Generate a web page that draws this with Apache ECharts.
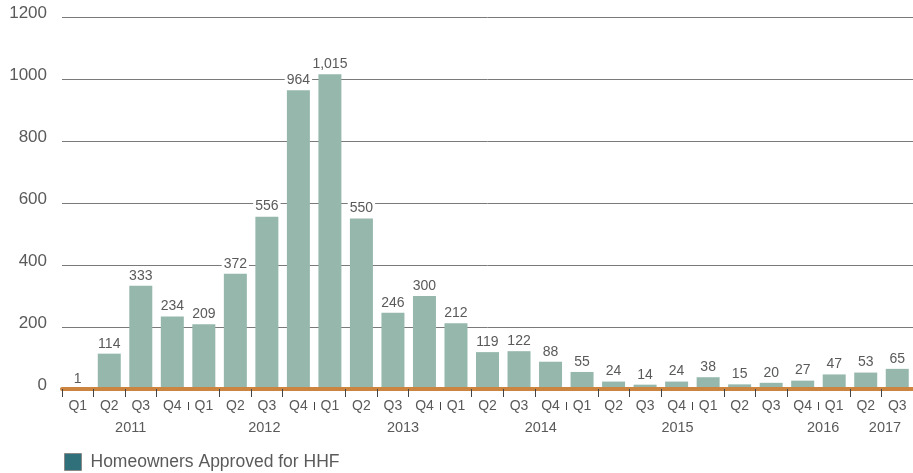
<!DOCTYPE html>
<html>
<head>
<meta charset="utf-8">
<script src="https://cdn.jsdelivr.net/npm/echarts@6/dist/echarts.min.js"></script>
<style>
  html, body { margin: 0; padding: 0; background: #fff; }
  #chart { width: 913px; height: 473px; }
</style>
</head>
<body>
<div id="chart"></div>
<script>
// Quarterly approvals, 2011 Q1 through 2017 Q3
const quarters = [
  'Q1','Q2','Q3','Q4', 'Q1','Q2','Q3','Q4', 'Q1','Q2','Q3','Q4',
  'Q1','Q2','Q3','Q4', 'Q1','Q2','Q3','Q4', 'Q1','Q2','Q3','Q4',
  'Q1','Q2','Q3'
];
const approved = [
  1, 114, 333, 234, 209, 372, 556, 964, 1015, 550, 246, 300,
  212, 119, 122, 88, 55, 24, 14, 24, 38, 15, 20, 27, 47, 53, 65
];
const seriesName = 'Homeowners Approved for HHF';

// Year captions and where they sit along the quarter scale (in quarters from the start)
const years = ['2011', '2012', '2013', '2014', '2015', '2016', '2017'];
const yearLabelAt = [2.18, 6.42, 10.82, 15.19, 19.53, 24.15, 26.11];
// Separators drawn between Q4 and Q1
const yearBreaks = [4, 8, 12, 16, 20, 24];

const yTicks = { min: 0, max: 1200, step: 200 };

const textColor = '#5a5a5a';
const sans = '"Liberation Sans", Arial, sans-serif';

const chart = echarts.init(document.getElementById('chart'), null, { renderer: 'canvas' });

chart.setOption({
  animation: false,
  textStyle: { fontFamily: sans },
  grid: { left: 62, right: -6, top: 17, bottom: 84, containLabel: false },
  legend: {
    left: 59,
    top: 448,
    icon: 'rect',
    itemWidth: 17,
    itemHeight: 17,
    itemGap: 10,
    textStyle: { color: textColor, fontSize: 17.5, fontFamily: sans, padding: [0, 0, 0, 4] },
    data: [{
      name: seriesName,
      itemStyle: { color: '#30707b', borderColor: '#8a8a8a', borderWidth: 1 }
    }]
  },
  xAxis: [
    {
      type: 'category',
      data: quarters,
      boundaryGap: true,
      axisLine: { show: true, lineStyle: { color: '#cc8540', width: 4 } },
      axisTick: {
        show: true,
        length: 8,
        interval: function (index) { return index === 0 || index % 4 !== 0; },
        lineStyle: { color: '#444', width: 1 }
      },
      axisLabel: {
        color: textColor,
        fontSize: 14,
        margin: 10,
        interval: 0,
        fontFamily: sans
      },
      z: 5
    },
    {
      type: 'value',
      min: 0,
      max: quarters.length,
      position: 'bottom',
      offset: 13,
      axisLine: { show: false },
      splitLine: { show: false },
      axisTick: {
        show: true,
        length: 8,
        customValues: yearBreaks,
        lineStyle: { color: '#444', width: 1 }
      },
      axisLabel: { show: false }
    },
    {
      type: 'value',
      min: 0,
      max: quarters.length,
      position: 'bottom',
      offset: 0,
      axisLine: { show: false },
      splitLine: { show: false },
      axisTick: { show: false },
      axisLabel: {
        show: true,
        customValues: yearLabelAt,
        margin: 31,
        color: textColor,
        fontSize: 14.5,
        fontFamily: sans,
        formatter: function (v) {
          const i = yearLabelAt.indexOf(v);
          return i >= 0 ? years[i] : '';
        }
      }
    }
  ],
  yAxis: {
    type: 'value',
    min: yTicks.min,
    max: yTicks.max,
    interval: yTicks.step,
    axisLine: { show: false },
    axisTick: { show: false },
    splitLine: { show: true, lineStyle: { color: '#7a7a7a', width: 1 } },
    axisLabel: {
      margin: 15,
      formatter: function (v) { return '{t|' + String(v) + '}'; },
      rich: {
        t: {
          color: textColor,
          fontSize: 17,
          fontFamily: sans,
          padding: [0, 0, 7, 0]
        }
      }
    }
  },
  series: [{
    name: seriesName,
    type: 'bar',
    xAxisIndex: 0,
    data: approved,
    barWidth: 23,
    itemStyle: { color: '#96b8ac' },
    label: {
      show: true,
      position: 'top',
      distance: 3,
      color: textColor,
      fontSize: 14,
      fontFamily: sans,
      backgroundColor: '#ffffff',
      padding: [1, 2, 0, 2],
      formatter: function (p) { return p.value.toLocaleString('en-US'); }
    }
  }]
});
</script>
</body>
</html>
